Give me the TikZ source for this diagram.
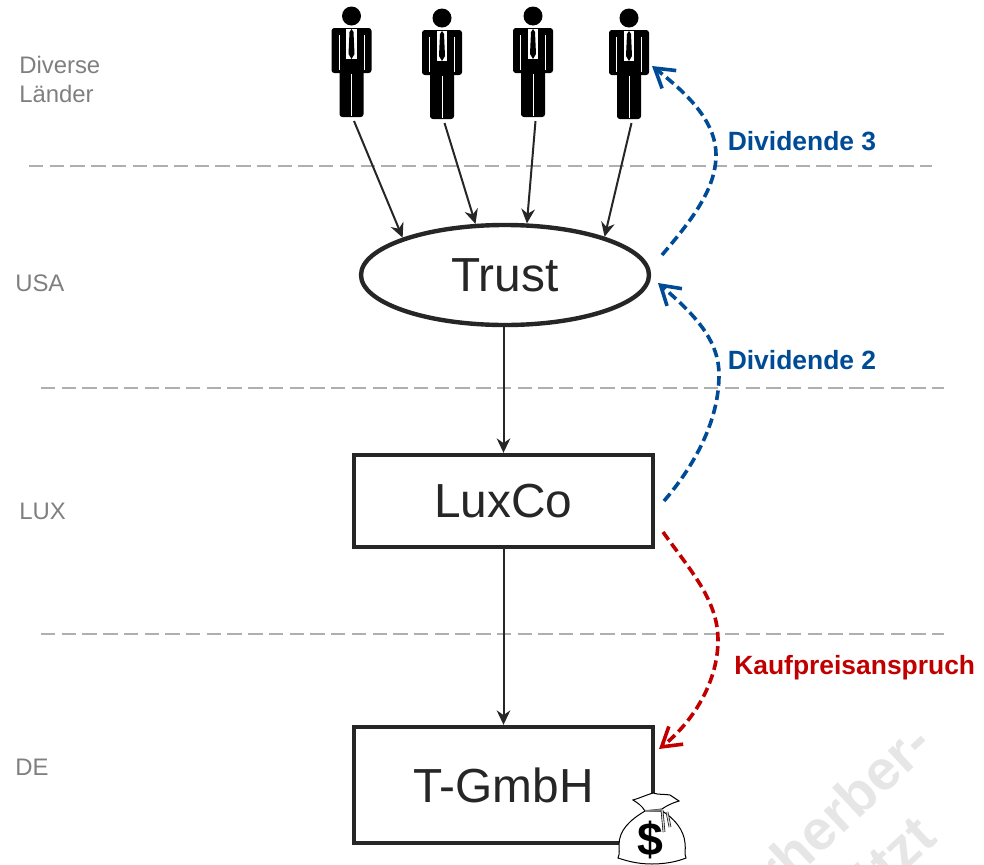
\documentclass[tikz,border=0pt]{standalone}
\usepackage{fontspec}
\setmainfont{Liberation Sans}
\usetikzlibrary{arrows.meta,shapes.geometric}
\definecolor{divblue}{RGB}{0,75,150}
\definecolor{kaufred}{RGB}{192,0,0}
\definecolor{linegray}{RGB}{38,38,38}
\definecolor{labelgray}{RGB}{127,127,127}
\definecolor{bordergray}{RGB}{175,175,175}
\definecolor{markgray}{RGB}{230,230,230}

\begin{document}
\begin{tikzpicture}[
  x=.25mm,
  y=-.25mm,
  entity/.style={draw=linegray,text=linegray,line width=1.1mm,font=\fontsize{34}{34}\selectfont,inner sep=0pt},
  owner/.style={draw=linegray,line width=.5mm,-{Stealth[length=3.6mm,width=3.4mm]}},
  border/.style={draw=bordergray,line width=.5mm,dash pattern=on 3.6mm off 1.58mm},
  flow/.style={line width=.9mm,dash pattern=on 2.4mm off 1.2mm,-{Straight Barb[length=4.6mm,width=5.7mm]}},
  region/.style={text=labelgray,font=\fontsize{17}{20.6}\selectfont,anchor=west,align=left,inner sep=0pt},
  flowlabel/.style={font=\fontsize{18.8}{20}\selectfont\bfseries,anchor=west,inner sep=0pt},
  stamp/.style={rotate=43,text=markgray,font=\fontsize{40}{40}\selectfont\bfseries,anchor=east,inner sep=0pt},
  pics/man/.style={code={
    \fill (0,0) circle (9.5);
    \fill[rounded corners=2] (-20,12) rectangle (20,57);
    \fill[rounded corners=2] (-12,50) rectangle (12,101);
    \fill[white] (-5.3,13) rectangle (5.3,43);
    \fill (0,13) -- (2,16) -- (3,38) -- (0,43) -- (-3,38) -- (-2,16) -- cycle;
    \draw[white,line width=.25mm] (-12.5,19) -- (-12.5,54) (12.5,19) -- (12.5,54) (0,58) -- (0,100);
    \coordinate (-foot) at (2.5,105);
  }},
]
\useasboundingbox (0,0) rectangle (984,865);
\begin{scope}
\clip (0,0) rectangle (984,865);
\node[stamp] (stampone) at (922,733) {rherber-};
\node[stamp] (stamptwo) at (926,826) {ützt};
\end{scope}

\path[border] (29,166) -- (932,166);
\path[border] (41,388) -- (944,388);
\path[border] (41,634) -- (944,634);

\node[region] (laender) at (19,79) {Diverse\\Länder};
\node[region] (usa) at (15,283) {USA};
\node[region] (lux) at (19,511) {LUX};
\node[region] (de) at (15,767) {DE};

\pic (mana) at (351.5,16) {man};
\pic (manb) at (442,18) {man};
\pic (manc) at (533,16) {man};
\pic (mand) at (629,18) {man};

\node[entity,ellipse,minimum width=72mm,minimum height=25mm] (trust) at (505,275) {\raisebox{-.5mm}{Trust}};
\node[entity,minimum width=74.75mm,minimum height=23mm] (luxco) at (503.5,501) {\raisebox{-.5mm}{LuxCo}};
\node[entity,minimum width=74.75mm,minimum height=29mm] (tgmbh) at (503.5,785) {\raisebox{-.5mm}{T-GmbH}};

\draw[owner] (mana-foot) -- (trust.160);
\draw[owner] (manb-foot) -- (trust.120);
\draw[owner] (manc-foot) -- (trust.67);
\draw[owner] (mand-foot) -- (trust.21);
\draw[owner] (trust.south -| luxco.north) -- (luxco.north);
\draw[owner] (luxco) -- (tgmbh);

% dividends and purchase price
\coordinate (divthreestart) at (662,255);
\coordinate (divthreeend) at (652,66);
\coordinate (divtwostart) at (664,501);
\coordinate (divtwoend) at (658,283);
\coordinate (kaufstart) at (663,532);
\coordinate (kaufend) at (659,749);
\draw[flow,divblue] (divthreestart) .. controls (690,222) and (716,190) .. (716,155) .. controls (716,120) and (685,92) .. (divthreeend);
\draw[flow,divblue] (divtwostart) .. controls (695,465) and (719,420) .. (719,375) .. controls (719,340) and (695,315) .. (divtwoend);
\draw[flow,kaufred] (kaufstart) .. controls (690,570) and (718,600) .. (718,640) .. controls (718,680) and (695,720) .. (kaufend);
\node[flowlabel,text=divblue] (divthree) at (727.5,141) {Dividende 3};
\node[flowlabel,text=divblue] (divtwo) at (727.5,360) {Dividende 2};
\node[flowlabel,text=kaufred] (kauf) at (734,668) {Kaufpreisanspruch};

% money bag
\filldraw[fill=white,draw=black,line width=.25mm] (645,811) .. controls (630,820) and (619,830) .. (619,845) .. controls (619,850) and (620,853) .. (618,858) .. controls (630,862) and (640,864) .. (652,864) .. controls (664,864) and (676,862) .. (686,858) .. controls (684,853) and (686,850) .. (685,843) .. controls (684,830) and (674,818) .. (662,811) -- cycle;
\filldraw[fill=white,draw=black,line width=.25mm] (633,800) .. controls (640,798) and (646,795) .. (653,793) .. controls (659,795) and (665,794) .. (670,795) -- (679,801) .. controls (672,803) and (666,806) .. (662,809) -- (645,811) .. controls (642,806) and (638,803) .. (633,800) -- cycle;
\draw[gray,line width=.5mm] (645,811) -- (662,810);
\draw[black,double=gray!40,double distance=.35mm,line width=.15mm] (662,810) -- (664,832) (667,812) -- (670,827);
\node[font=\fontsize{33}{33}\selectfont\bfseries,inner sep=0pt] (dollar) at (650,840) {\$};
\end{tikzpicture}
\end{document}
